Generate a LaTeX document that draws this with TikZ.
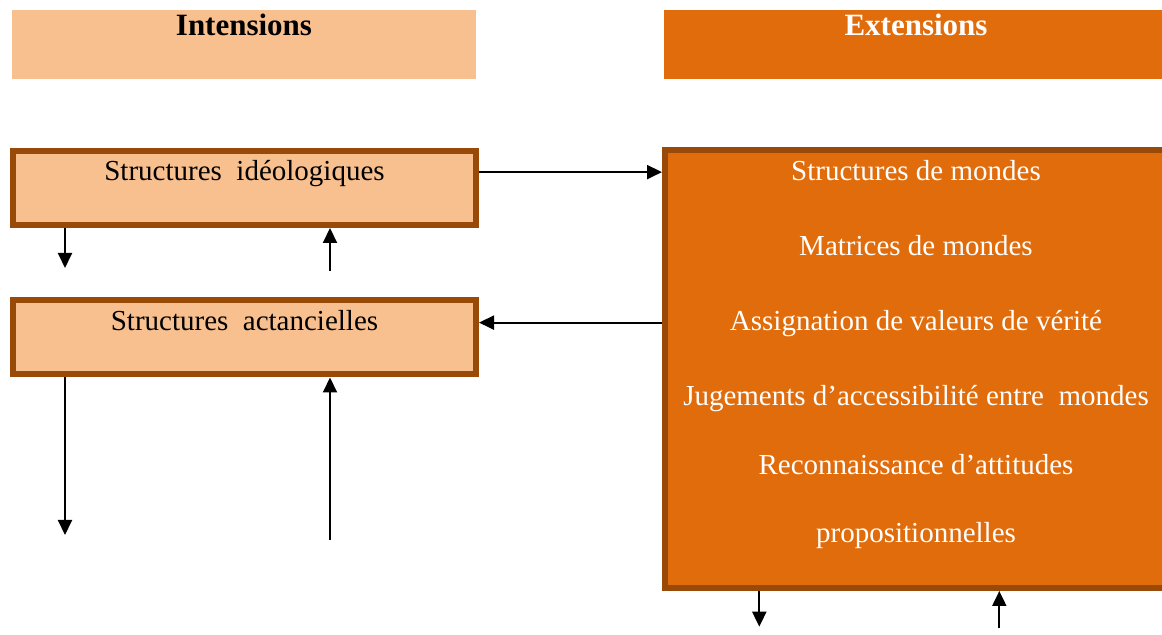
\documentclass[tikz,border=0pt]{standalone}
\usepackage{fontspec}
\setmainfont{Liberation Serif}
\usepackage{tikz}
\usetikzlibrary{arrows.meta}
\definecolor{peach}{RGB}{248,192,143}
\definecolor{rust}{RGB}{225,108,12}
\definecolor{brownline}{RGB}{154,74,8}
\begin{document}
\begin{tikzpicture}[x=0.5pt, y=-0.5pt,
  head/.style={inner sep=0pt, minimum width=232pt, minimum height=34.5pt, text height=13pt, text depth=21.5pt, font=\fontsize{15.5}{18}\selectfont\bfseries},
  level/.style={draw=brownline, line width=3pt, fill=peach, inner sep=0pt, minimum width=231.5pt, minimum height=37pt, text height=14.85pt, text depth=22.15pt, font=\fontsize{14.5}{17}\selectfont},
  arr/.style={line width=1pt, -{Triangle[length=7.5pt, width=7pt]}}]
\useasboundingbox (0,0) rectangle (1162,635);
\clip (0,0) rectangle (1162,635);
\node[head, fill=peach] (intens) at (244,44.5) {Intensions};
\node[head, fill=rust, text=white, minimum width=252pt] (extens) at (916,44.5) {Extensions};
\node[level] (ideo) at (244.5,188) {Structures\ \ idéologiques};
\node[level] (actant) at (244.5,337.5) {Structures\ \ actancielles};
\node[draw=brownline, line width=3pt, fill=rust, inner sep=0pt, minimum width=251.5pt, minimum height=219pt] (extbox) at (916.5,369) {};
\node[text=white, align=center, anchor=base, font=\fontsize{14.5}{37.5}\selectfont] (worlds) at (916,542.5) {Structures de mondes\\Matrices de mondes\\Assignation de valeurs de vérité\\Jugements d’accessibilité entre\ \ mondes\\[-3pt]Reconnaissance d’attitudes\\[-3.5pt]propositionnelles};
\coordinate (ia) at ([yshift=2pt]ideo.mid east);
\coordinate (aa) at ([yshift=1.5pt]actant.mid east);
\draw[arr] (ia) -- (ia -| extbox.west);
\draw[arr] (aa -| extbox.west) -- (aa);
\coordinate (d1) at (65,268);
\coordinate (u1) at (330,270.7);
\coordinate (d2) at (65,535);
\coordinate (u2) at (330,540);
\coordinate (d3) at (759.3,626.7);
\coordinate (u3) at (999.3,628.3);
\draw[arr] (ideo.south -| d1) -- (d1);
\draw[arr] (u1) -- (u1 |- ideo.south);
\draw[arr] (actant.south -| d2) -- (d2);
\draw[arr] (u2) -- (u2 |- actant.south);
\draw[arr] (extbox.south -| d3) -- (d3);
\draw[arr] (u3) -- (u3 |- extbox.south);
\end{tikzpicture}
\end{document}
